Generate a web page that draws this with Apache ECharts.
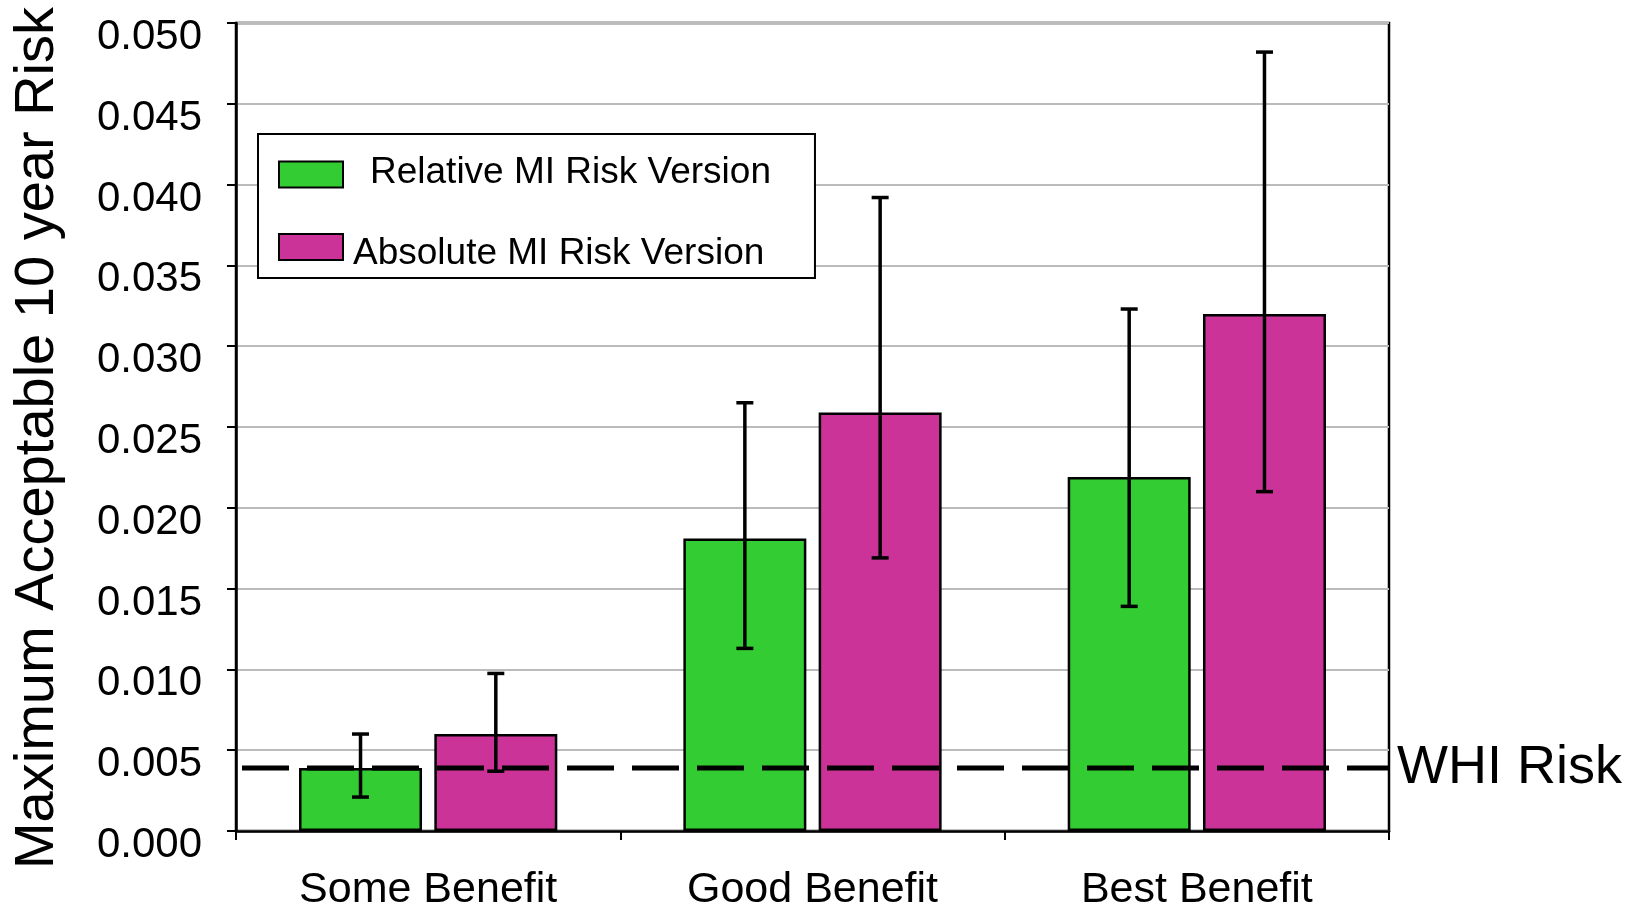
<!DOCTYPE html>
<html>
<head>
<meta charset="utf-8">
<script src="https://cdn.jsdelivr.net/npm/echarts@6/dist/echarts.min.js"></script>
<style>
  html, body { margin: 0; padding: 0; background: #ffffff; }
  #chart { width: 1625px; height: 906px; }
</style>
</head>
<body>
<div id="chart"></div>
<script>
// ---- data ----
const categories = ['Some Benefit', 'Good Benefit', 'Best Benefit'];
const seriesNames = ['Relative MI Risk Version', 'Absolute MI Risk Version'];
const relativeValues = [0.0039, 0.0181, 0.0219];
const relativeLow    = [0.0021, 0.0113, 0.0139];
const relativeHigh   = [0.0060, 0.0265, 0.0323];
const absoluteValues = [0.0060, 0.0259, 0.0320];
const absoluteLow    = [0.0037, 0.0169, 0.0210];
const absoluteHigh   = [0.00975, 0.0392, 0.0482];
const whiRisk = 0.0039;
const whiLabel = 'WHI Risk';
const yAxisName = 'Maximum Acceptable 10 year Risk';
const yMin = 0, yMax = 0.05, yStep = 0.005;

// ---- styling ----
const FONT = '"Liberation Sans", Arial, Helvetica, sans-serif';
const GREEN = '#33cc33';
const MAGENTA = '#cc3399';
const BAR_W = 0.32;   // fraction of band
const BAR_GAP = 0.10; // fraction of bar width

function errData(lo, hi) {
  return categories.map((c, i) => [i, lo[i], hi[i]]);
}

function makeErrRenderer(sign) {
  return function (params, api) {
    const idx = api.value(0);
    const pLo = api.coord([idx, api.value(1)]);
    const pHi = api.coord([idx, api.value(2)]);
    const band = api.size([1, 0])[0];
    const bw = band * BAR_W;
    const off = sign * (bw + bw * BAR_GAP) / 2;
    const x = pLo[0] + off;
    const cap = 8.5;
    const st = { stroke: '#000', lineWidth: 3.5, fill: null };
    return {
      type: 'group',
      children: [
        { type: 'line', shape: { x1: x, y1: pLo[1], x2: x, y2: pHi[1] }, style: st },
        { type: 'line', shape: { x1: x - cap, y1: pLo[1], x2: x + cap, y2: pLo[1] }, style: st },
        { type: 'line', shape: { x1: x - cap, y1: pHi[1], x2: x + cap, y2: pHi[1] }, style: st }
      ]
    };
  };
}

function renderWhi(params, api) {
  const cs = params.coordSys;
  const y = api.coord([0, api.value(1)])[1];
  return {
    type: 'group',
    children: [
      {
        type: 'line',
        shape: { x1: cs.x + 6, y1: y, x2: cs.x + cs.width, y2: y },
        style: { stroke: '#000', lineWidth: 5, lineDash: [47, 18], fill: null }
      },
      {
        type: 'text',
        x: cs.x + cs.width + 8, y: y,
        style: {
          text: whiLabel, fill: '#000', font: '54px ' + FONT,
          align: 'left', verticalAlign: 'middle'
        }
      }
    ]
  };
}

const chart = echarts.init(document.getElementById('chart'), null, { renderer: 'canvas' });

chart.setOption({
  backgroundColor: '#ffffff',
  animation: false,
  textStyle: { fontFamily: FONT, color: '#000' },
  grid: {
    left: 236, right: 236, top: 23, bottom: 75,
    containLabel: false,
    outerBoundsMode: 'none',
    show: true, borderColor: '#000', borderWidth: 2.5, backgroundColor: 'transparent'
  },
  legend: {
    left: 258, top: 134,
    orient: 'vertical',
    padding: [20, 44, 6, 20],
    itemGap: 27,
    itemWidth: 64, itemHeight: 26,
    icon: 'rect',
    backgroundColor: '#ffffff',
    borderColor: '#000', borderWidth: 2,
    data: seriesNames,
    formatter: function (name) {
      return name === seriesNames[0] ? '{a|' + name + '}' : '{b|' + name + '}';
    },
    textStyle: {
      fontFamily: FONT, fontSize: 37, color: '#000', lineHeight: 40,
      rich: {
        a: { fontFamily: FONT, fontSize: 37, color: '#000', lineHeight: 40, padding: [0, 0, 4, 22] },
        b: { fontFamily: FONT, fontSize: 37, color: '#000', lineHeight: 40, padding: [13, 0, 0, 5] }
      }
    }
  },
  xAxis: {
    type: 'category',
    data: categories,
    boundaryGap: true,
    axisLine: { show: true, lineStyle: { color: '#000', width: 2.5 } },
    axisTick: { show: true, length: 9, lineStyle: { color: '#000', width: 2 } },
    axisLabel: { fontFamily: FONT, fontSize: 43, color: '#000', margin: 38 },
    splitLine: { show: false }
  },
  yAxis: {
    type: 'value',
    min: yMin, max: yMax, interval: yStep,
    name: yAxisName,
    nameLocation: 'middle',
    nameGap: 170,
    nameTextStyle: { fontFamily: FONT, fontSize: 56, color: '#000', padding: [0, 22, 0, 0] },
    axisLine: { show: true, lineStyle: { color: '#000', width: 2.5 } },
    axisTick: { show: true, length: 9, lineStyle: { color: '#000', width: 2 } },
    axisLabel: {
      fontFamily: FONT, fontSize: 42, color: '#000', margin: 34,
      formatter: v => '{v|' + v.toFixed(3) + '}',
      rich: { v: { fontFamily: FONT, fontSize: 42, color: '#000', padding: [29, 0, 0, 0] } }
    },
    splitLine: { show: true, lineStyle: { color: '#bbbbbb', width: 2 } }
  },
  series: [
    {
      name: seriesNames[0],
      type: 'bar',
      data: relativeValues,
      barWidth: (BAR_W * 100) + '%',
      barGap: (BAR_GAP * 100) + '%',
      itemStyle: { color: GREEN, borderColor: '#000', borderWidth: 2.5 },
      z: 2
    },
    {
      name: seriesNames[1],
      type: 'bar',
      data: absoluteValues,
      barWidth: (BAR_W * 100) + '%',
      barGap: (BAR_GAP * 100) + '%',
      itemStyle: { color: MAGENTA, borderColor: '#000', borderWidth: 2.5 },
      z: 2
    },
    {
      name: 'WHI',
      type: 'custom',
      renderItem: renderWhi,
      data: [[0, whiRisk]],
      encode: { x: 0, y: 1 },
      clip: false,
      z: 5,
      silent: true
    },
    {
      name: 'relErr',
      type: 'custom',
      renderItem: makeErrRenderer(-1),
      data: errData(relativeLow, relativeHigh),
      z: 6,
      silent: true
    },
    {
      name: 'absErr',
      type: 'custom',
      renderItem: makeErrRenderer(1),
      data: errData(absoluteLow, absoluteHigh),
      z: 6,
      silent: true
    }
  ]
});
</script>
</body>
</html>
